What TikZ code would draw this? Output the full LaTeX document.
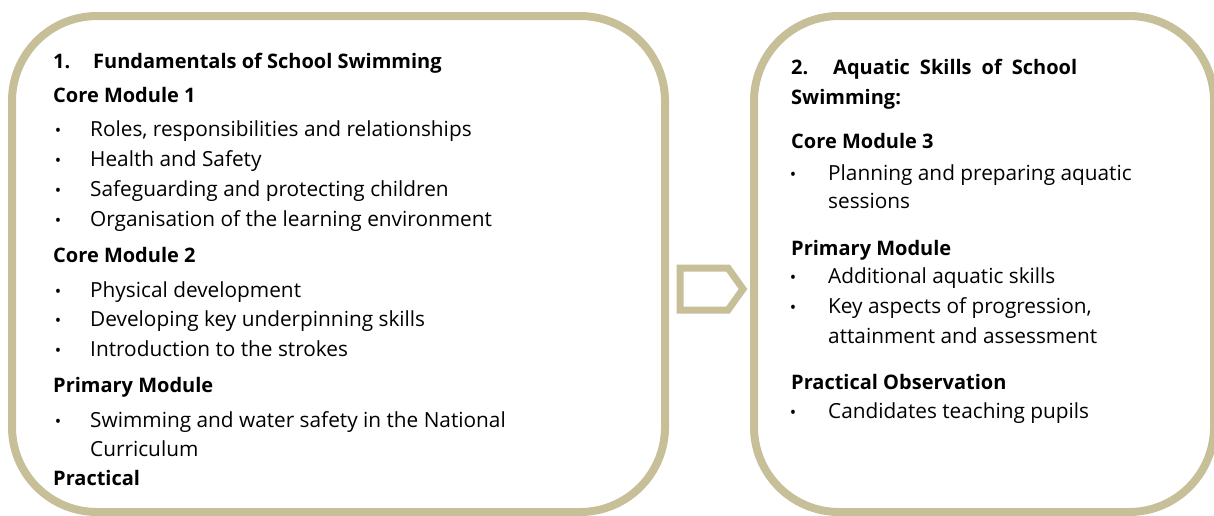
\documentclass[tikz,border=0pt]{standalone}
\usepackage{fontspec}
\setmainfont{Open Sans}
\definecolor{frame}{RGB}{198,191,152}
\begin{document}
\begin{tikzpicture}[x=1pt,y=-1pt,
  boxframe/.style={draw=frame,line width=8pt,rounded corners=85pt},
  txt/.style={anchor=base west,inner sep=0pt,font=\fontsize{20.8}{24}\selectfont},
  hd/.style={txt,font=\fontsize{20}{24}\selectfont\bfseries},
  bul/.style={anchor=base,inner sep=0pt,font=\fontsize{17}{20}\selectfont}]
\useasboundingbox (0,0) rectangle (1214,515);
\draw[boxframe] (12,16) rectangle (665,512);
\draw[boxframe] (754,16) rectangle (1214,512);
% arrow
\draw[draw=frame,line width=7pt,line join=miter] (680,268) -- (728,268) -- (743,289) -- (728,310) -- (680,310) -- cycle;
% left box
\node[hd] (n1) at (53,68) {1.};
\node[hd] (t1) at (93,68) {Fundamentals of School Swimming};
\node[hd] (c1) at (53,102) {Core Module 1};
\foreach \y/\t [count=\i] in {136/{Roles, responsibilities and relationships},166/{Health and Safety},196/{Safeguarding and protecting children},226/{Organisation of the learning environment}}{
  \node[bul] (ba\i) at (58,\y) {•};
  \node[txt] (la\i) at (90,\y) {\t};
}
\node[hd] (c2) at (53,262) {Core Module 2};
\foreach \y/\t [count=\i] in {297/{Physical development},326/{Developing key underpinning skills},356/{Introduction to the strokes}}{
  \node[bul] (bb\i) at (58,\y) {•};
  \node[txt] (lb\i) at (90,\y) {\t};
}
\node[hd] (pm1) at (53,392) {Primary Module};
\node[bul] (bc1) at (58,427) {•};
\node[txt] (lc1) at (90,427) {Swimming and water safety in the National};
\node[txt] (lc2) at (90,456) {Curriculum};
\node[hd] (pr1) at (53,485) {Practical};
% right box
\node[hd] (n2) at (791,74) {2.};
\node[hd] (t2) at (833,74) {\makebox[244pt][s]{Aquatic Skills of School}};
\node[hd] (t2b) at (791,104) {Swimming:};
\node[hd] (c3) at (791,148) {Core Module 3};
\node[bul] (bd1) at (793,180) {•};
\node[txt] (ld1) at (828,180) {Planning and preparing aquatic};
\node[txt] (ld2) at (828,208) {sessions};
\node[hd] (pm2) at (791,255) {Primary Module};
\node[bul] (be1) at (793,283) {•};
\node[txt] (le1) at (828,283) {Additional aquatic skills};
\node[bul] (be2) at (793,313) {•};
\node[txt] (le2) at (828,313) {Key aspects of progression,};
\node[txt] (le3) at (828,343) {attainment and assessment};
\node[hd] (po) at (791,389) {Practical Observation};
\node[bul] (bf1) at (793,418) {•};
\node[txt] (lf1) at (828,418) {Candidates teaching pupils};
\end{tikzpicture}
\end{document}
